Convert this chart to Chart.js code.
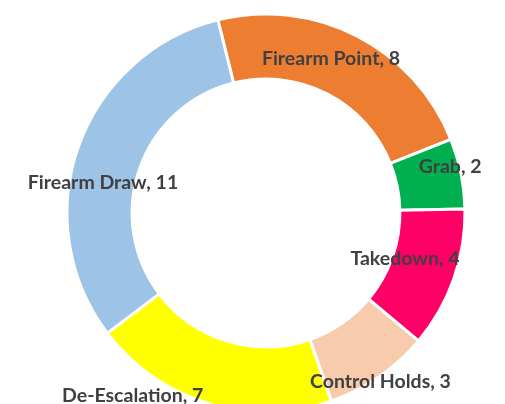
<!DOCTYPE html>
<html>
<head>
<meta charset="utf-8">
<script src="https://cdn.jsdelivr.net/npm/chart.js@4.4.0/dist/chart.umd.min.js"></script>
<style>
html,body{margin:0;padding:0;background:#fff;overflow:hidden;}
#wrap{position:relative;width:505px;height:404px;}
</style>
</head>
<body>
<div id="wrap"><canvas id="c" width="505" height="404"></canvas></div>
<script>
const categories = ['Firearm Point', 'Grab', 'Takedown', 'Control Holds', 'De-Escalation', 'Firearm Draw'];
const values = [8, 2, 4, 3, 7, 11];
const colors = ['#ED7D31', '#00B050', '#FF0066', '#F8CBAD', '#FFFF00', '#9DC3E6'];
// label nudges relative to each arc's centre point (pixels)
const labelOffsets = [[-11, -6], [21, -13], [-18, -10], [20, 32], [-85, 23], [-6, 25]];

const labelPlugin = {
  id: 'sliceLabels',
  afterDatasetsDraw(chart) {
    const ctx = chart.ctx;
    const meta = chart.getDatasetMeta(0);
    ctx.save();
    ctx.font = 'bold 19.5px Lato';
    ctx.fillStyle = '#404040';
    ctx.textAlign = 'center';
    ctx.textBaseline = 'middle';
    meta.data.forEach((arc, i) => {
      const p = arc.getCenterPoint();
      const o = labelOffsets[i];
      ctx.fillText(categories[i] + ', ' + values[i], p.x + o[0], p.y + o[1]);
    });
    ctx.restore();
  }
};

new Chart(document.getElementById('c'), {
  type: 'doughnut',
  data: {
    labels: categories,
    datasets: [{
      data: values,
      backgroundColor: colors,
      borderColor: '#ffffff',
      borderWidth: 3,
      radius: 199,
      hoverOffset: 0
    }]
  },
  options: {
    responsive: false,
    animation: false,
    rotation: -14,
    cutout: '67.3%',
    layout: { padding: { left: 27, top: 22, right: 0, bottom: 0 } },
    plugins: { legend: { display: false }, tooltip: { enabled: false } },
    events: []
  },
  plugins: [labelPlugin]
});
</script>
</body>
</html>
